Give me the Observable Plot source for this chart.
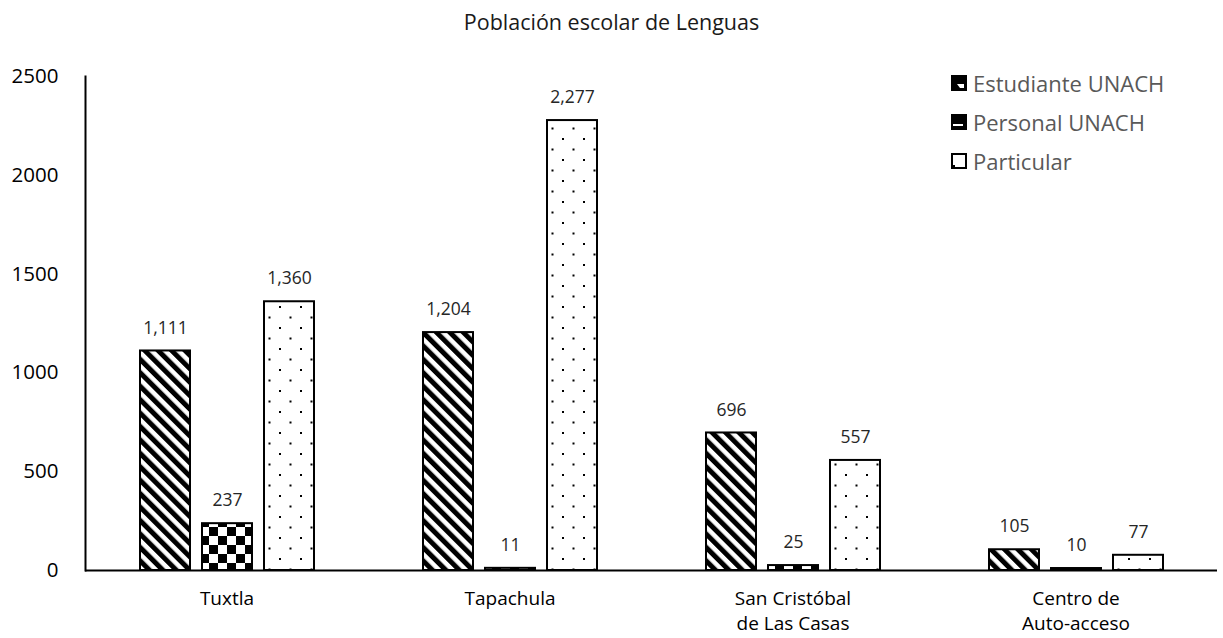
<!DOCTYPE html>
<html>
<head>
<meta charset="utf-8">
<script src="https://cdn.jsdelivr.net/npm/d3@7"></script>
<script src="https://cdn.jsdelivr.net/npm/@observablehq/plot@0.6"></script>
<style>
  html, body { margin: 0; padding: 0; background: #fff; }
  #wrap { position: relative; width: 1223px; height: 638px; font-family: "Open Sans", sans-serif; }
  #title { height: 50px; box-sizing: border-box; padding-top: 7px; text-align: center; font-size: 21.5px; line-height: 30px; color: #1a1a1a; }
  #legend { position: absolute; left: 951px; top: 63px; font-size: 22px; color: #595959; }
  #legend .item { display: flex; align-items: center; height: 39px; }
  #legend svg { margin-right: 6px; }
</style>
</head>
<body>
<div id="wrap">
  <div id="title">Población escolar de Lenguas</div>
  <div id="chart"></div>
  <div id="legend"></div>
</div>
<script>
const categories = ["Tuxtla", "Tapachula", "San Cristóbal\nde Las Casas", "Centro de\nAuto-acceso"];
const series = ["Estudiante UNACH", "Personal UNACH", "Particular"];
const estudiante = [1111, 1204, 696, 105];
const personal = [237, 11, 25, 10];
const particular = [1360, 2277, 557, 77];
const yTicks = [0, 500, 1000, 1500, 2000, 2500];
const patterns = ["url(#pEst)", "url(#pPer)", "url(#pPar)"];

const values = [estudiante, personal, particular];
const rows = [];
categories.forEach((c, i) => series.forEach((s, j) => rows.push({cat: c, series: s, value: values[j][i]})));

const fmt = d3.format(",");

const chart = Plot.plot({
  width: 1223,
  height: 588,
  marginLeft: 83,
  marginRight: 5,
  marginTop: 26,
  marginBottom: 68,
  style: {fontFamily: "'Open Sans', sans-serif", color: "#000", background: "#fff"},
  fx: {domain: categories, padding: 0, label: null},
  x: {domain: series, paddingInner: 0.2, paddingOuter: 0.852, axis: null},
  y: {domain: [0, 2500], label: null},
  color: {domain: series, range: patterns},
  marks: [
    Plot.barY(rows, {fx: "cat", x: "series", y: "value", fill: "series", stroke: "#000", strokeWidth: 2}),
    Plot.text(rows, {fx: "cat", x: "series", y: "value", text: d => fmt(d.value), dy: -23, fontSize: 17.5, fill: "#262626"}),
    Plot.ruleY([0], {stroke: "#000", strokeWidth: 2}),
    Plot.frame({anchor: "left", facetAnchor: "left", stroke: "#000", strokeWidth: 2}),
    Plot.axisY({ticks: yTicks, tickSize: 0, tickPadding: 27, fontSize: 20.5, label: null, tickFormat: d => String(d)}),
    Plot.axisFx({anchor: "bottom", tickSize: 0, tickPadding: 17, fontSize: 19, lineHeight: 1.3, label: null})
  ]
});

const ns = "http://www.w3.org/2000/svg";
const defs = document.createElementNS(ns, "defs");
defs.innerHTML = `
  <pattern id="pEst" patternUnits="userSpaceOnUse" width="9.5" height="9.5" patternTransform="rotate(-45)">
    <rect width="9.5" height="9.5" fill="#fff"/>
    <rect width="5" height="9.5" fill="#000"/>
  </pattern>
  <pattern id="pPer" patternUnits="userSpaceOnUse" width="18" height="18">
    <rect width="18" height="18" fill="#fff"/>
    <rect width="9" height="9" fill="#000"/>
    <rect x="9" y="9" width="9" height="9" fill="#000"/>
  </pattern>
  <pattern id="pPar" patternUnits="userSpaceOnUse" width="21" height="21">
    <rect width="21" height="21" fill="#fff"/>
    <rect x="4" y="4" width="2" height="2" fill="#000"/>
    <rect x="14.5" y="14.5" width="2" height="2" fill="#000"/>
  </pattern>`;
chart.insertBefore(defs, chart.firstChild);
document.getElementById("chart").appendChild(chart);

const markers = [
  `<rect x="1" y="1" width="14" height="14" fill="#000" stroke="#000" stroke-width="2"/><polygon points="6,9 13,9 13,13 9,13" fill="#fff"/>`,
  `<rect x="1" y="1" width="14" height="14" fill="#000" stroke="#000" stroke-width="2"/><rect x="2" y="10" width="10" height="2" fill="#fff"/>`,
  `<rect x="1" y="1" width="14" height="14" fill="#fff" stroke="#000" stroke-width="2"/><rect x="2" y="12" width="2" height="2" fill="#000"/>`
];
const legend = document.getElementById("legend");
series.forEach((s, i) => {
  const item = document.createElement("div");
  item.className = "item";
  item.innerHTML = `<svg width="16" height="16">${markers[i]}</svg><span>${s}</span>`;
  legend.appendChild(item);
});
</script>
</body>
</html>
